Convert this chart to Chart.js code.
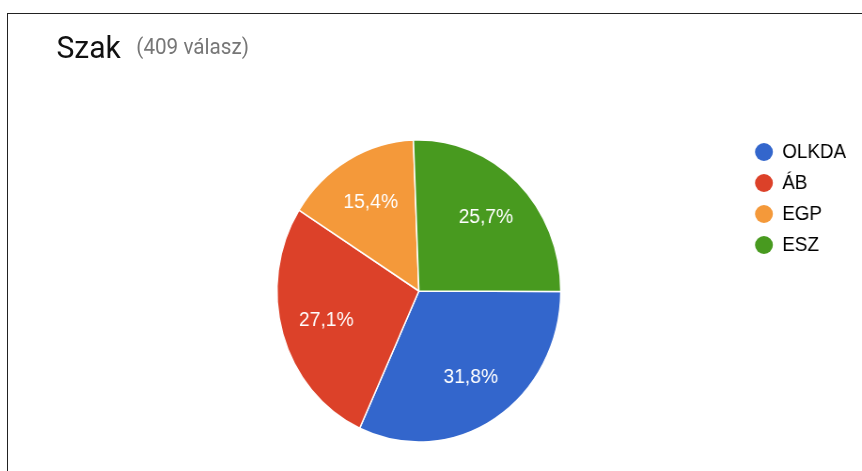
<!DOCTYPE html>
<html>
<head>
<meta charset="utf-8">
<script src="https://cdn.jsdelivr.net/npm/chart.js@4"></script>
<style>
  html, body { margin: 0; padding: 0; background: #fff; }
  body { width: 862px; height: 471px; position: relative; overflow: hidden; }
  .frame { position: absolute; left: 7px; top: 13px; right: -5px; bottom: -5px;
           border-left: 1.5px solid #222; border-top: 1.5px solid #222; }
  .wrap { position: absolute; left: 0; top: 0; width: 917px; height: 471px;
          transform: scaleX(0.94); transform-origin: 0 0; }
  .title { position: absolute; left: 60px; top: 31px; font: 32px Roboto, sans-serif;
           line-height: 32px; color: #111; white-space: nowrap; }
  .sub { position: absolute; left: 145px; top: 36px; font: 22px Roboto, sans-serif;
         line-height: 22px; color: #777; white-space: nowrap; }
  canvas { position: absolute; left: 0; top: 0; }
</style>
</head>
<body>
<div class="frame"></div>
<div class="wrap">
  <div class="title">Szak</div>
  <div class="sub">(409 válasz)</div>
  <canvas id="pieChart" width="917" height="471"></canvas>
</div>
<script>
const categories = ['OLKDA', 'ÁB', 'EGP', 'ESZ'];
const answers = [130, 111, 63, 105];
const colors = ['#3366cc', '#dc4129', '#f4993a', '#489a1f'];

const total = answers.reduce((a, b) => a + b, 0);

// percent labels inside the slices, like the google forms summary
const sliceLabels = {
  id: 'sliceLabels',
  afterDatasetsDraw(chart) {
    const ctx = chart.ctx;
    const meta = chart.getDatasetMeta(0);
    ctx.save();
    ctx.fillStyle = '#fff';
    ctx.font = '20.5px "Liberation Sans", Arial, sans-serif';
    ctx.textAlign = 'center';
    ctx.textBaseline = 'middle';
    meta.data.forEach((arc, i) => {
      const p = arc.getProps(['x', 'y', 'startAngle', 'endAngle', 'outerRadius'], true);
      const mid = (p.startAngle + p.endAngle) / 2;
      const r = p.outerRadius * 0.68;
      const pct = (answers[i] / total * 100).toFixed(1).replace('.', ',') + '%';
      ctx.fillText(pct, p.x + Math.cos(mid) * r, p.y + Math.sin(mid) * r);
    });
    ctx.restore();
  }
};

new Chart(document.getElementById('pieChart'), {
  type: 'pie',
  data: {
    labels: categories,
    datasets: [{
      data: answers,
      backgroundColor: colors,
      borderColor: '#fff',
      borderWidth: 1.5,
      radius: 151
    }]
  },
  options: {
    responsive: false,
    animation: false,
    // last slice (ESZ) starts just left of 12 o'clock in the original
    rotation: answers[3] / total * 360 - 2.2,
    layout: { padding: { top: 131, bottom: 20, left: 99, right: 7 } },
    plugins: {
      tooltip: { enabled: false },
      legend: {
        position: 'right',
        align: 'start',
        labels: {
          usePointStyle: true,
          pointStyle: 'circle',
          boxHeight: 12.7,
          pointStyleWidth: 19,
          padding: 11,
          color: '#222',
          font: { family: '"Liberation Sans", Arial, sans-serif', size: 20 },
          generateLabels(chart) {
            return categories.map((c, i) => ({
              text: c, fillStyle: colors[i], strokeStyle: colors[i],
              lineWidth: 0, index: i, hidden: false
            }));
          }
        }
      }
    }
  },
  plugins: [sliceLabels]
});
</script>
</body>
</html>
